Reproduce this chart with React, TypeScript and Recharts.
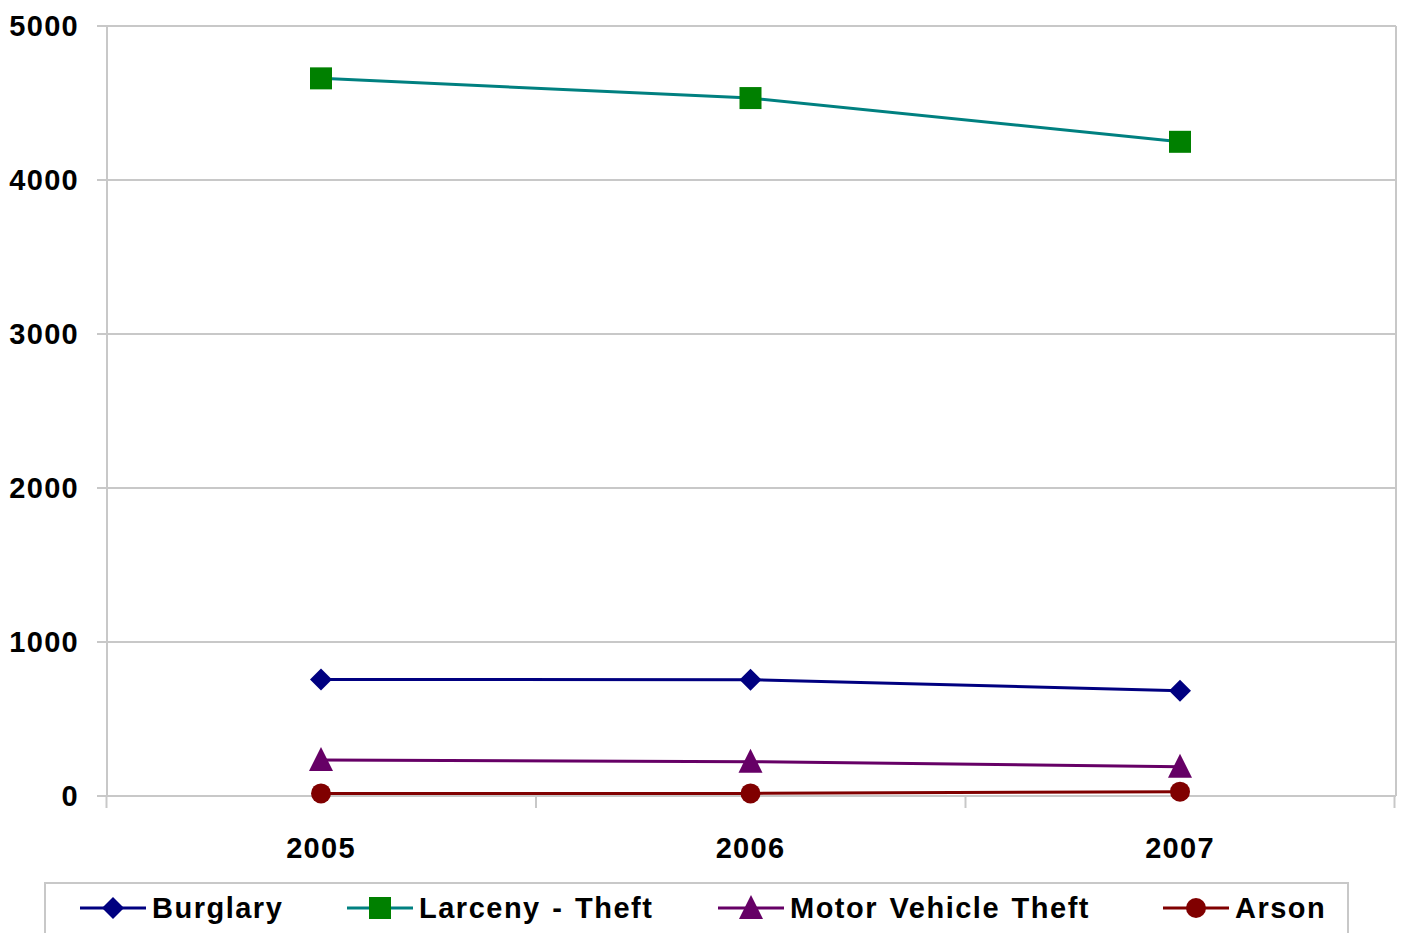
import React from 'react';
import { LineChart, Line, XAxis, YAxis, CartesianGrid } from 'recharts';

const years = ['2005', '2006', '2007'];
const burglary = [757, 755, 684];
const larceny = [4660, 4532, 4248];
const motorVehicle = [234, 223, 190];
const arson = [17, 17, 28];
const yTicks = [0, 1000, 2000, 3000, 4000, 5000];

const seriesNames = ['Burglary', 'Larceny - Theft', 'Motor Vehicle Theft', 'Arson'];
const seriesKeys = ['burglary', 'larceny', 'mvt', 'arson'];
const lineColors = ['#000080', '#008080', '#660066', '#800000'];
const markerColors = ['#000080', '#008000', '#660066', '#800000'];
const markerKinds = ['diamond', 'square', 'triangle', 'circle'];
const legendLefts = [34, 301, 672, 1117];

const data = years.map((y, i) => ({
  year: y,
  burglary: burglary[i],
  larceny: larceny[i],
  mvt: motorVehicle[i],
  arson: arson[i],
}));

const FONT = '"Liberation Sans", Arial, sans-serif';
const GRID = '#c8c8c8';
const HALF_STEP = 214.5;

function Marker({ kind, cx, cy, color }: { kind: string; cx: number; cy: number; color: string }) {
  if (cx == null || cy == null) return null;
  if (kind === 'diamond') {
    return <polygon points={`${cx},${cy - 11} ${cx + 11},${cy} ${cx},${cy + 11} ${cx - 11},${cy}`} fill={color} />;
  }
  if (kind === 'square') {
    return <rect x={cx - 11} y={cy - 11} width={22} height={22} fill={color} />;
  }
  if (kind === 'triangle') {
    return <polygon points={`${cx},${cy - 13} ${cx + 12},${cy + 11} ${cx - 12},${cy + 11}`} fill={color} />;
  }
  return <circle cx={cx} cy={cy} r={10} fill={color} />;
}

const tickStyle = { fill: '#000', fontSize: 29, fontWeight: 'bold', fontFamily: FONT, letterSpacing: 1.3 };

function XTick(props: any) {
  const { x, y, payload, index } = props;
  const last = index === years.length - 1;
  return (
    <g>
      <line x1={x - HALF_STEP} y1={y} x2={x - HALF_STEP} y2={y + 12} stroke={GRID} strokeWidth={2} />
      {last && <line x1={x + HALF_STEP} y1={y} x2={x + HALF_STEP} y2={y + 12} stroke={GRID} strokeWidth={2} />}
      <text x={x} y={y + 41} dy="0.71em" textAnchor="middle" {...tickStyle}>
        {payload.value}
      </text>
    </g>
  );
}

const edgeVerticals = ({ offset }: any) => [offset.left + offset.width];

export default function App() {
  return (
    <div style={{ position: 'absolute', left: 0, top: 0, width: 1401, height: 933, background: '#fff', overflow: 'hidden' }}>
      <LineChart width={1401} height={933} data={data} margin={{ top: 26, right: 5, bottom: 0, left: 0 }}>
        <XAxis
          dataKey="year"
          height={137}
          axisLine={{ stroke: GRID, strokeWidth: 2 }}
          tickLine={false}
          tickSize={0}
          tickMargin={0}
          tick={XTick}
          padding={{ left: 214, right: 216 }}
          interval={0}
        />
        <YAxis
          domain={[0, 5000]}
          ticks={yTicks}
          width={107}
          tickSize={10}
          tickMargin={18}
          tick={tickStyle}
          tickLine={{ stroke: GRID, strokeWidth: 2 }}
          axisLine={{ stroke: GRID, strokeWidth: 2 }}
          interval={0}
        />
        <CartesianGrid vertical={false} stroke={GRID} strokeWidth={2} />
        <CartesianGrid horizontal={false} verticalCoordinatesGenerator={edgeVerticals} stroke={GRID} strokeWidth={2} />
        {seriesKeys.map((k, i) => (
          <Line
            key={k}
            dataKey={k}
            name={seriesNames[i]}
            stroke={lineColors[i]}
            strokeWidth={3}
            isAnimationActive={false}
            type="linear"
            dot={(p: any) => <Marker key={`${k}-${p.index}`} kind={markerKinds[i]} cx={p.cx} cy={p.cy} color={markerColors[i]} />}
            activeDot={false}
          />
        ))}
      </LineChart>
      <div
        style={{
          position: 'absolute',
          left: 44,
          top: 882,
          width: 1305,
          height: 60,
          border: `2px solid ${GRID}`,
          boxSizing: 'border-box',
          fontFamily: FONT,
          fontWeight: 'bold',
          fontSize: 29,
          letterSpacing: 1.5,
          wordSpacing: 2,
          color: '#000',
        }}
      >
        {seriesNames.map((n, i) => (
          <div key={n} style={{ position: 'absolute', left: legendLefts[i], top: 6, height: 36, display: 'flex', alignItems: 'center', whiteSpace: 'nowrap' }}>
            <svg width={66} height={30} style={{ display: 'block' }}>
              <line x1={0} y1={15} x2={66} y2={15} stroke={lineColors[i]} strokeWidth={3} />
              <Marker kind={markerKinds[i]} cx={33} cy={15} color={markerColors[i]} />
            </svg>
            <span style={{ marginLeft: 6, lineHeight: '36px' }}>{n}</span>
          </div>
        ))}
      </div>
    </div>
  );
}
